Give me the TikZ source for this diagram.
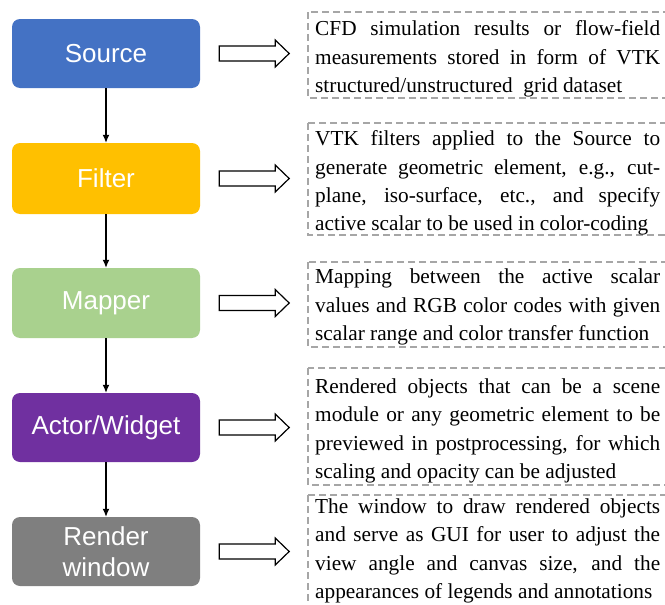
\documentclass[tikz,border=0pt]{standalone}
\usepackage{fontspec}
\setmainfont{Liberation Serif}
\newfontfamily\labelfont{Liberation Sans}
\usetikzlibrary{calc,arrows.meta}
\definecolor{cblue}{HTML}{4472C4}
\definecolor{cyellow}{HTML}{FFC000}
\definecolor{cgreen}{HTML}{A9D18E}
\definecolor{cpurple}{HTML}{7030A0}
\definecolor{cgray}{HTML}{7F7F7F}
\definecolor{dashgray}{HTML}{A6A6A6}
\begin{document}
\begin{tikzpicture}[x=1pt,y=-1pt,
  stage/.style={rounded corners=8pt, minimum width=188pt, minimum height=69pt,
    inner sep=0pt, text=white, align=center,
    font=\labelfont\fontsize{26}{31}\selectfont},
  flow/.style={-{Latex[length=8pt,width=7pt]}, line width=1.2pt, black},
  hollow/.style={draw=black, fill=white, line width=1.2pt, line join=miter},
  descbox/.style={draw=dashgray, line width=1.2pt, dash pattern=on 7pt off 4pt},
  desc/.style={anchor=west, inner sep=0pt, text width=345pt, align=justify,
    font=\fontsize{21.3}{28.3}\selectfont}
]
\useasboundingbox (0,0) rectangle (665,605);
\clip (0,0) rectangle (665,605);

% stages
\node[stage, fill=cblue]   (src) at (106,53.5)  {Source};
\node[stage, fill=cyellow, minimum height=71pt] (flt) at (106,178.5) {Filter};
\node[stage, fill=cgreen, minimum height=70pt]  (map) at (106,303)   {Mapper};
\node[stage, fill=cpurple] (act) at (106,427.5) {Actor/Widget};
\node[stage, fill=cgray]   (ren) at (106,551.5) {Render\\window};

% vertical flow
\draw[flow] (src) -- (flt);
\draw[flow] (flt) -- (map);
\draw[flow] (map) -- (act);
\draw[flow] (act) -- (ren);

% dashed description boxes
\draw[descbox] (308,12) rectangle (700,98);
\draw[descbox] (308,123) rectangle (700,235);
\draw[descbox] (308,262) rectangle (700,347);
\draw[descbox] (308,368) rectangle (700,485);
\draw[descbox] (308,495) rectangle (700,640);

% descriptions
\node[desc] (d1) at (315,59) {CFD simulation results or flow-field\linebreak measurements stored in form of VTK\linebreak structured/unstructured~ grid dataset};
\node[desc] (d2) at (315,183) {VTK filters applied to the Source to\linebreak generate geometric element, e.g., cut-\linebreak plane, iso-surface, etc., and specify\linebreak active scalar to be used in color-coding};
\node[desc] (d3) at (315,307) {Mapping between the active scalar\linebreak values and RGB color codes with given\linebreak scalar range and color transfer function};
\node[desc] (d4) at (315,431) {Rendered objects that can be a scene\linebreak module or any geometric element to be\linebreak previewed in postprocessing, for which\linebreak scaling and opacity can be adjusted};
\node[desc] (d5) at (315,551) {The window to draw rendered objects\linebreak and serve as GUI for user to adjust the\linebreak view angle and canvas size, and the\linebreak appearances of legends and annotations};

% hollow block arrows
\foreach \n/\m in {src/d1, flt/d2, map/d3, act/d4, ren/d5}{
  \draw[hollow] ($(\n.east)+(19,-7.5)$) -- ($(\n.east)+(75,-7.5)$) -- ($(\n.east)+(75,-13.5)$)
    -- ($(\n.east)+(89,0)$) -- ($(\n.east)+(75,13.5)$) -- ($(\n.east)+(75,7.5)$)
    -- ($(\n.east)+(19,7.5)$) -- cycle;
}
\end{tikzpicture}
\end{document}
